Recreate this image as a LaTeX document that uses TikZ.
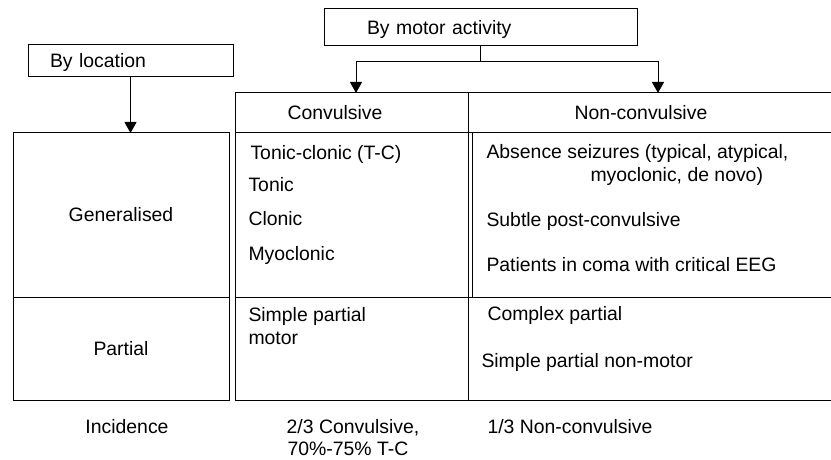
\documentclass[tikz,border=0pt]{standalone}
\usepackage{fontspec}
\setmainfont{Liberation Sans}
\usepackage{tikz}
\usetikzlibrary{arrows.meta}

\tikzset{
  cell/.style={draw, inner sep=0pt, outer sep=0pt, text height=13.8pt, text depth=0pt},
  txt/.style={inner sep=0pt, text height=13.8pt, text depth=0pt, anchor=west},
}

\begin{document}
\begin{tikzpicture}[x=1pt, y=-1pt, line width=1pt, >={Triangle[width=12pt,length=11pt]},
    font=\fontsize{19.4}{25}\selectfont]
      \clip (0,0) rectangle (831,460);
      % the two headings
      \node[cell, minimum width=205pt, minimum height=32pt, text width=161pt, align=left] (loc) at (130.5,61) {By location};
      \node[cell, minimum width=313pt, minimum height=37pt, text width=227pt, align=left] (motor) at (480.5,27.5) {By motor activity};
      % left column
      \node[cell, minimum width=216pt, minimum height=164pt] (gen) at (121,215) {Generalised};
      \node[cell, minimum width=216pt, minimum height=103pt] (part) at (121,348.5) {Partial};
      % table
      \node[cell, minimum width=233pt, minimum height=40pt] (convhead) at (351.5,113) {};
      \node[cell, minimum width=364pt, minimum height=40pt] (nchead) at (650,113) {};
      \node[cell, minimum width=233pt, minimum height=164pt] (convgen) at (351.5,215) {};
      \node[cell, minimum width=360pt, minimum height=164pt] (ncgen) at (652,215) {};
      \node[cell, minimum width=233pt, minimum height=103pt] (convpart) at (351.5,348.5) {};
      \node[cell, minimum width=364pt, minimum height=103pt] (ncpart) at (650,348.5) {};
      \node[txt, anchor=center] (conv) at (335,113) {Convulsive};
      \node[txt, anchor=center] (nonconv) at (641,113) {Non-convulsive};
      % generalised row
      \node[txt] (tc) at (250,153) {Tonic-clonic (T-C)};
      \node[txt] (tonic) at (248,185) {Tonic};
      \node[txt] (clonic) at (248,219) {Clonic};
      \node[txt] (myo) at (248,254) {Myoclonic};
      \node[txt] (abs) at (486,152) {Absence seizures (typical, atypical,};
      \node[txt] (abs2) at (590,175) {myoclonic, de novo)};
      \node[txt] (subtle) at (486,220) {Subtle post-convulsive};
      \node[txt] (coma) at (486,265) {Patients in coma with critical EEG};
      % partial row
      \node[txt] (spm) at (248,315) {Simple partial};
      \node[txt] (spm2) at (248,338) {motor};
      \node[txt] (cp) at (487,314) {Complex partial};
      \node[txt] (spnm) at (481,361) {Simple partial non-motor};
      % incidence
      \node[txt, anchor=center] (inc) at (127,427) {Incidence};
      \node[txt, anchor=center] (incc) at (353,427) {2/3 Convulsive,};
      \node[txt, anchor=center] (incc2) at (348,449) {70\%-75\% T-C};
      \node[txt] (incn) at (487,427) {1/3 Non-convulsive};
      % arrows
      \coordinate (split) at (480.5,62);
      \draw[->] (loc) -- (loc |- gen.north);
      \draw (motor) -- (split);
      \draw[->] (split) -| ([xshift=4.5pt]convhead.north);
      \draw[->] (split) -| ([xshift=8pt]nchead.north);
    \end{tikzpicture}
\end{document}
